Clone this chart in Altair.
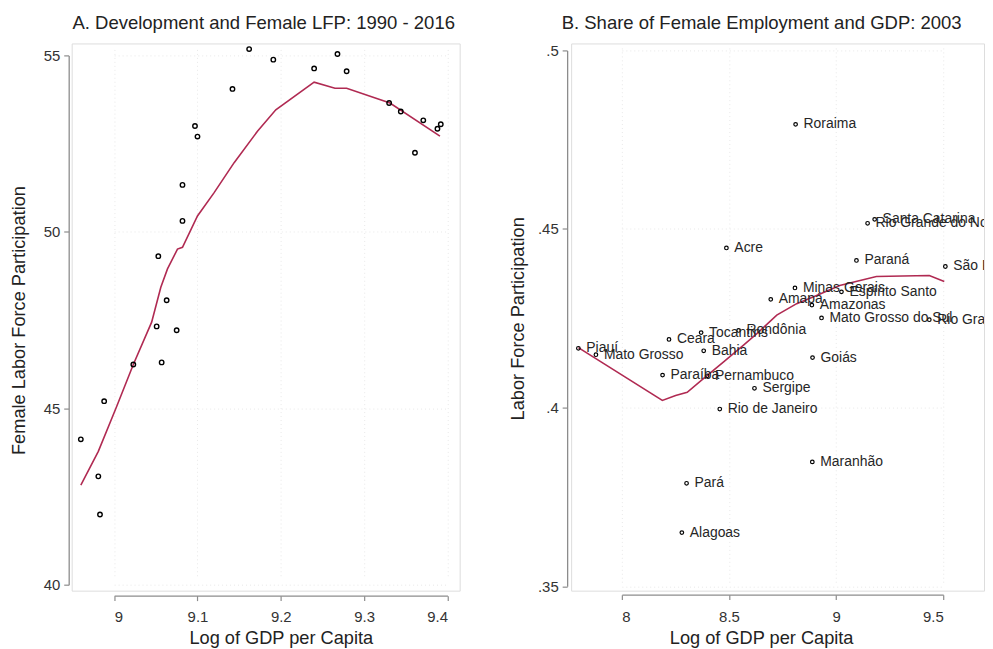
import altair as alt
import pandas as pd

FONT = "Liberation Sans"
LINE = "#B02A52"
AXIS = "#8c8c8c"
GRID = "#e8e8e8"

# ---------------- Panel A data ----------------
a_gdp = [9.162, 9.191, 9.268, 9.240, 9.279, 9.142, 9.330, 9.344, 9.371, 9.392, 9.388,
         9.361, 9.097, 9.100, 9.082, 9.082, 9.053, 9.063, 9.051, 9.075, 9.023, 9.057,
         8.988, 8.960, 8.981, 8.983]
a_lfp = [55.18, 54.88, 55.04, 54.63, 54.55, 54.05, 53.65, 53.41, 53.16, 53.05, 52.92,
         52.24, 53.00, 52.70, 51.33, 50.31, 49.31, 48.06, 47.32, 47.21, 46.24, 46.30,
         45.20, 44.12, 43.07, 41.99]
a_fit_gdp = [8.960, 8.981, 9.003, 9.023, 9.045, 9.056, 9.064, 9.076, 9.082, 9.100,
             9.120, 9.144, 9.172, 9.194, 9.240, 9.265, 9.279, 9.331, 9.391]
a_fit_lfp = [42.82, 43.78, 45.05, 46.24, 47.44, 48.43, 48.95, 49.51, 49.56, 50.45,
             51.11, 51.96, 52.85, 53.46, 54.24, 54.07, 54.07, 53.65, 52.71]
a_xticks = [9.0, 9.1, 9.2, 9.3, 9.4]
a_yticks = [40, 45, 50, 55]

# ---------------- Panel B data ----------------
b_states = ["Piauí", "Mato Grosso", "Ceara", "Tocantins", "Rondônia", "Bahia", "Paraíba",
            "Pernambuco", "Sergipe", "Rio de Janeiro", "Acre", "Amapá", "Minas Gerais",
            "Espírito Santo", "Amazonas", "Mato Grosso do Sul", "Rio Grande do Sul", "Goiás",
            "Paraná", "São Paulo", "Santa Catarina", "Rio Grande do Norte", "Roraima",
            "Maranhão", "Pará", "Alagoas"]
b_gdp = [7.797, 7.879, 8.220, 8.370, 8.545, 8.382, 8.190, 8.398, 8.619, 8.457, 8.488,
         8.695, 8.808, 9.025, 8.887, 8.932, 9.435, 8.890, 9.095, 9.510, 9.180, 9.147,
         8.811, 8.889, 8.302, 8.280]
b_lfp = [0.4166, 0.4148, 0.4191, 0.4210, 0.4216, 0.4159, 0.4091, 0.4089, 0.4054, 0.3996,
         0.4447, 0.4303, 0.4335, 0.4324, 0.4287, 0.4251, 0.4246, 0.4140, 0.4412, 0.4395,
         0.4527, 0.4516, 0.4793, 0.3848, 0.3788, 0.3650]
b_fit_gdp = [7.797, 8.189, 8.251, 8.305, 8.382, 8.475, 8.568, 8.630, 8.723, 8.816,
             8.909, 9.017, 9.188, 9.435, 9.505]
b_fit_lfp = [0.4168, 0.4020, 0.4034, 0.4043, 0.4082, 0.4128, 0.4175, 0.4207, 0.4259,
             0.4291, 0.4314, 0.4342, 0.4367, 0.4370, 0.4353]
b_xticks = [8.0, 8.5, 9.0, 9.5]
b_yticks = [0.35, 0.40, 0.45, 0.50]

dfA = pd.DataFrame({"gdp": a_gdp, "lfp": a_lfp})
dfAfit = pd.DataFrame({"gdp": a_fit_gdp, "lfp": a_fit_lfp, "i": range(len(a_fit_gdp))})
dfB = pd.DataFrame({"state": b_states, "gdp": b_gdp, "lfp": b_lfp})
dfBfit = pd.DataFrame({"gdp": b_fit_gdp, "lfp": b_fit_lfp, "i": range(len(b_fit_gdp))})


def mk_axis(values, offset, title, fmt=None, label_expr=None, title_x=None,
            title_padding=6, label_padding=4):
    kw = dict(values=values, offset=offset, title=title,
              domainColor=AXIS, domainWidth=1.3, tickColor=AXIS, tickSize=5,
              tickWidth=1.2, labelFont=FONT, labelFontSize=15, labelColor="#333333",
              labelPadding=label_padding, titleFont=FONT, titleFontSize=18.3,
              titleFontWeight="normal", titleColor="#222222", titlePadding=title_padding,
              grid=True, gridColor=GRID, gridDash=[1, 3], gridWidth=1)
    if fmt is not None:
        kw["format"] = fmt
    if label_expr is not None:
        kw["labelExpr"] = label_expr
    if title_x is not None:
        kw["titleX"] = title_x
    return alt.Axis(**kw)


# ---------------- Panel A ----------------
WA, HA = 390, 550
xA = alt.X("gdp:Q",
           scale=alt.Scale(domain=[a_xticks[0], a_xticks[-1]], range=[42.7, 377.7],
                           zero=False, nice=False),
           axis=mk_axis(a_xticks, 5, "Log of GDP per Capita", fmt="~g",
                        label_padding=9, title_padding=5))
yA = alt.Y("lfp:Q",
           scale=alt.Scale(domain=[a_yticks[0], a_yticks[-1]], range=[544, 12],
                           zero=False, nice=False),
           axis=mk_axis(a_yticks, 3, "Female Labor Force Participation", fmt="~g",
                        title_padding=15))

ptsA = alt.Chart(dfA).mark_point(shape="circle", filled=False, size=20, strokeWidth=1.4,
                                 color="black", opacity=1).encode(x=xA, y=yA)
fitA = alt.Chart(dfAfit).mark_line(color=LINE, strokeWidth=1.6).encode(
    x=alt.X("gdp:Q"), y=alt.Y("lfp:Q"), order="i:Q")

panelA = alt.layer(fitA, ptsA).properties(
    width=WA, height=HA,
    title=alt.TitleParams("A. Development and Female LFP: 1990 - 2016", font=FONT,
                          fontSize=18.6, fontWeight="normal", color="#222222",
                          anchor="middle", frame="group", offset=11, dx=-2))

# ---------------- Panel B ----------------
WB, HB = 415, 550
xB = alt.X("gdp:Q",
           scale=alt.Scale(domain=[b_xticks[0], b_xticks[-1]], range=[51, 374],
                           zero=False, nice=False),
           axis=mk_axis(b_xticks, 4, "Log of GDP per Capita", fmt="~g", title_x=191,
                        label_padding=10, title_padding=5))
yB = alt.Y("lfp:Q",
           scale=alt.Scale(domain=[b_yticks[0], b_yticks[-1]], range=[545.5, 7],
                           zero=False, nice=False),
           axis=mk_axis(b_yticks, 4, "Labor Force Participation",
                        label_expr="replace(format(datum.value, '~g'), '0.', '.')",
                        title_padding=10))

ptsB = alt.Chart(dfB).mark_point(shape="circle", filled=False, size=13, strokeWidth=1.2,
                                 color="black", opacity=1).encode(x=xB, y=yB)
lblB = alt.Chart(dfB).mark_text(align="left", baseline="middle", dx=8, fontSize=14,
                                font=FONT, color="#262626", clip=True).encode(
    x=alt.X("gdp:Q"), y=alt.Y("lfp:Q"), text="state:N")
fitB = alt.Chart(dfBfit).mark_line(color=LINE, strokeWidth=1.6).encode(
    x=alt.X("gdp:Q"), y=alt.Y("lfp:Q"), order="i:Q")

panelB = alt.layer(fitB, ptsB, lblB).properties(
    width=WB, height=HB,
    title=alt.TitleParams("B. Share of Female Employment and GDP: 2003", font=FONT,
                          fontSize=18.6, fontWeight="normal", color="#222222",
                          anchor="middle", frame="group", offset=11, dx=-16))

chart = alt.hconcat(panelA, panelB, spacing=47).properties(
    padding={"left": 0, "top": 3, "right": 0, "bottom": 0},
    background="white",
).configure_view(strokeWidth=0).configure(font=FONT)

chart.save("out.html", embed_options={"renderer": "svg", "actions": False})
